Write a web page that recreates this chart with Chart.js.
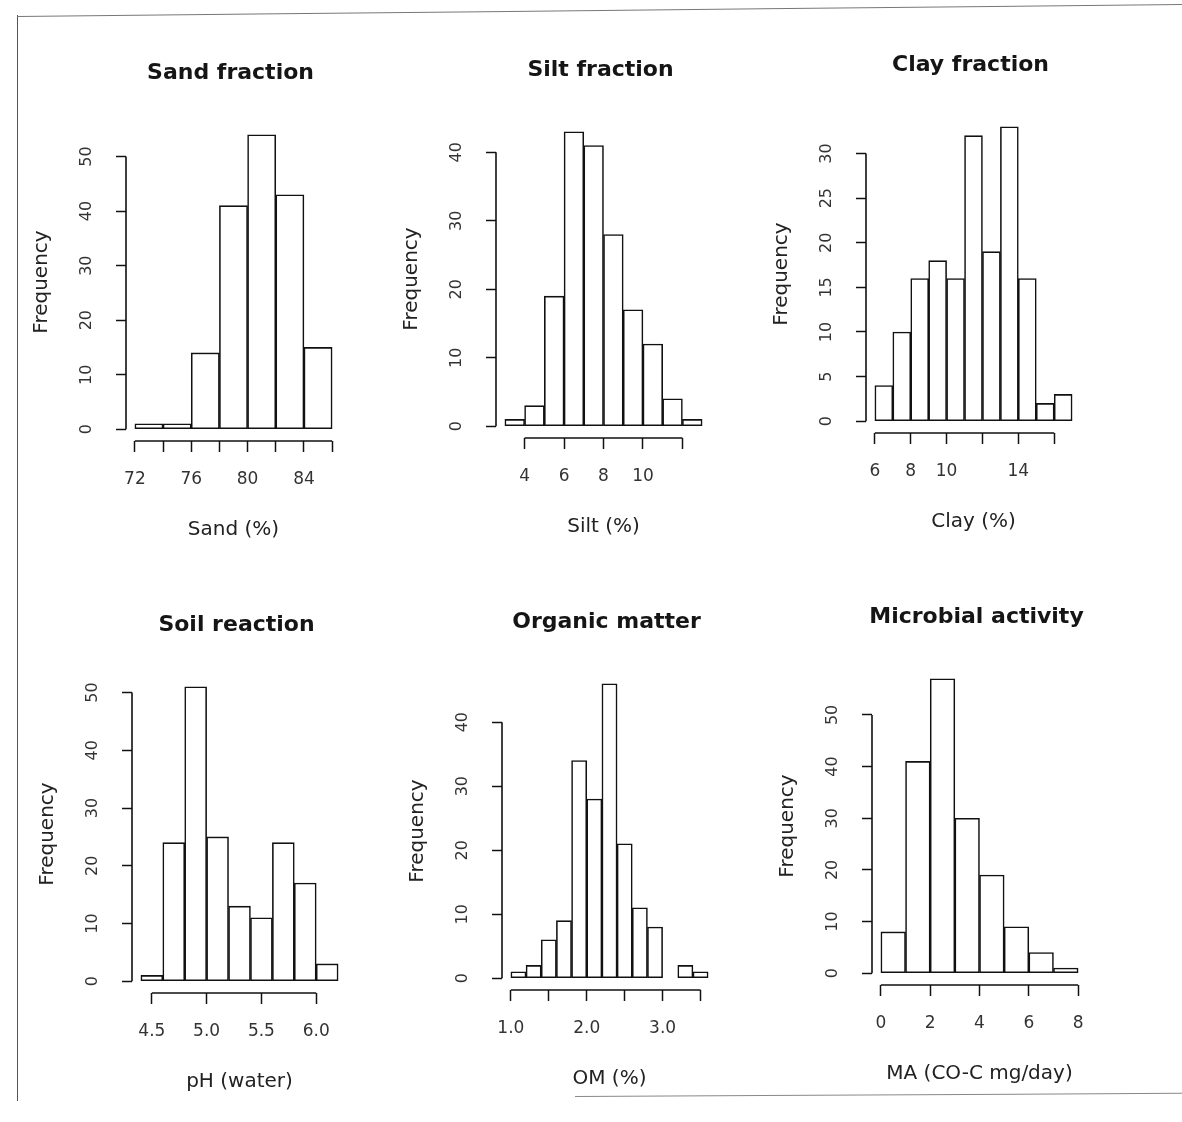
<!DOCTYPE html>
<html>
<head>
<meta charset="utf-8">
<title>Soil property histograms</title>
<script src="https://cdn.jsdelivr.net/npm/chart.js@4.4.1/dist/chart.umd.min.js"></script>
<style>
  html, body { margin: 0; padding: 0; background: #fff; overflow: hidden; }
  body { width: 1182px; height: 1122px; position: relative; }
  canvas { position: absolute; }
  .edge { position: absolute; background: #555; }
</style>
</head>
<body>
<div class="edge" style="left:17px; top:15px; width:1px; height:1086px;"></div>
<div class="edge" style="left:17px; top:16px; width:1166px; height:1px; background:#777; transform-origin:0 0; transform:rotate(-0.59deg);"></div>
<div class="edge" style="left:575px; top:1096px; width:607px; height:1px; background:#888; transform-origin:0 0; transform:rotate(-0.3deg);"></div>

<canvas id="sandChart" width="345" height="518" style="left:26px; top:33px;"></canvas>
<canvas id="siltChart" width="345" height="518" style="left:396px; top:30px;"></canvas>
<canvas id="clayChart" width="345" height="518" style="left:766px; top:25px;"></canvas>
<canvas id="phChart" width="345" height="518" style="left:32px; top:585px;"></canvas>
<canvas id="omChart" width="345" height="518" style="left:402px; top:582px;"></canvas>
<canvas id="maChart" width="345" height="518" style="left:772px; top:577px;"></canvas>

<script>
// bin edges and counts
const sandBreaks = [72, 74, 76, 78, 80, 82, 84, 86];
const sandCounts = [1, 1, 14, 41, 54, 43, 15];
const sandTicks = [72, 74, 76, 78, 80, 82, 84, 86];
const sandLabels = ["72", "", "76", "", "80", "", "84", ""];
const sandYTicks = [0, 10, 20, 30, 40, 50];

const siltBreaks = [3, 4, 5, 6, 7, 8, 9, 10, 11, 12, 13];
const siltCounts = [1, 3, 19, 43, 41, 28, 17, 12, 4, 1];
const siltTicks = [4, 6, 8, 10, 12];
const siltLabels = ["4", "6", "8", "10", ""];
const siltYTicks = [0, 10, 20, 30, 40];

const clayBreaks = [6, 7, 8, 9, 10, 11, 12, 13, 14, 15, 16, 17];
const clayCounts = [4, 10, 16, 18, 16, 32, 19, 33, 16, 2, 3];
const clayTicks = [6, 8, 10, 12, 14, 16];
const clayLabels = ["6", "8", "10", "", "14", ""];
const clayYTicks = [0, 5, 10, 15, 20, 25, 30];

const phBreaks = [4.4, 4.6, 4.8, 5.0, 5.2, 5.4, 5.6, 5.8, 6.0, 6.2];
const phCounts = [1, 24, 51, 25, 13, 11, 24, 17, 3];
const phTicks = [4.5, 5.0, 5.5, 6.0];
const phLabels = ["4.5", "5.0", "5.5", "6.0"];
const phYTicks = [0, 10, 20, 30, 40, 50];

const omBreaks = [1.0, 1.2, 1.4, 1.6, 1.8, 2.0, 2.2, 2.4, 2.6, 2.8, 3.0, 3.2, 3.4, 3.6];
const omCounts = [1, 2, 6, 9, 34, 28, 46, 21, 11, 8, 0, 2, 1];
const omTicks = [1.0, 1.5, 2.0, 2.5, 3.0, 3.5];
const omLabels = ["1.0", "", "2.0", "", "3.0", ""];
const omYTicks = [0, 10, 20, 30, 40];

const maBreaks = [0, 1, 2, 3, 4, 5, 6, 7, 8];
const maCounts = [8, 41, 57, 30, 19, 9, 4, 1];
const maTicks = [0, 2, 4, 6, 8];
const maLabels = ["0", "2", "4", "6", "8"];
const maYTicks = [0, 10, 20, 30, 40, 50];

Chart.defaults.font.family = '"DejaVu Sans", sans-serif';
Chart.defaults.color = '#333';

/*
 * Draws one R style histogram: axes only span the tick range,
 * y labels are turned, title sits over the plot region
 */
function makeHist(id, title, xTitle, breaks, counts, xTicks, xLabels, yTicks) {
  let points = [];
  for (let i = 0; i < counts.length; i++) {
    points.push({ x: (breaks[i] + breaks[i + 1]) / 2, y: counts[i] });
  }
  let lo = breaks[0], hi = breaks[breaks.length - 1];
  let xPad = (hi - lo) * 0.045;
  let yMax = Math.max.apply(null, counts);

  // axis lines, turned y labels and main title
  let rStyle = {
    id: 'rStyle',
    afterDraw: function (chart) {
      let ctx = chart.ctx, area = chart.chartArea;
      let x = chart.scales.x, y = chart.scales.y;
      ctx.save();
      ctx.strokeStyle = '#111';
      ctx.lineWidth = 1.6;
      ctx.beginPath();
      ctx.moveTo(area.left, y.getPixelForValue(yTicks[0]));
      ctx.lineTo(area.left, y.getPixelForValue(yTicks[yTicks.length - 1]));
      ctx.moveTo(x.getPixelForValue(xTicks[0]), area.bottom);
      ctx.lineTo(x.getPixelForValue(xTicks[xTicks.length - 1]), area.bottom);
      ctx.stroke();

      ctx.fillStyle = '#333';
      ctx.font = '16px "DejaVu Sans"';
      ctx.textAlign = 'center';
      ctx.textBaseline = 'middle';
      yTicks.forEach(function (v) {
        ctx.save();
        ctx.translate(area.left - 39, y.getPixelForValue(v));
        ctx.rotate(-Math.PI / 2);
        ctx.fillText(String(v), 0, 0);
        ctx.restore();
      });

      ctx.fillStyle = '#151515';
      ctx.font = 'bold 22px "DejaVu Sans"';
      ctx.fillText(title, (area.left + area.right) / 2 - 3, area.top - 50);
      ctx.restore();
    }
  };

  let ctx = document.getElementById(id).getContext('2d');
  return new Chart(ctx, {
    type: 'bar',
    data: {
      datasets: [{
        data: points,
        backgroundColor: '#fff',
        borderColor: '#111',
        borderWidth: 1.6,
        borderSkipped: false,
        barPercentage: 1,
        categoryPercentage: 1
      }]
    },
    options: {
      responsive: false,
      animation: false,
      layout: { padding: { top: 90, right: 30, left: 0, bottom: 0 } },
      plugins: { legend: { display: false }, tooltip: { enabled: false } },
      scales: {
        x: {
          type: 'linear',
          offset: false,
          min: lo - xPad,
          max: hi + xPad,
          afterBuildTicks: function (s) { s.ticks = xTicks.map(function (v) { return { value: v }; }); },
          afterFit: function (s) { s.height = 110; },
          border: { display: false },
          grid: { offset: false, drawOnChartArea: false, drawTicks: true, tickLength: 11, tickWidth: 1.5, tickColor: '#111' },
          ticks: {
            autoSkip: false, maxRotation: 0, padding: 17,
            font: { size: 17 }, color: '#333',
            callback: function (v, i) { return xLabels[i]; }
          },
          title: { display: true, text: xTitle, font: { size: 20 }, color: '#222', padding: { top: 0, bottom: 9 } }
        },
        y: {
          min: -0.04 * yMax,
          max: 1.04 * yMax,
          afterBuildTicks: function (s) { s.ticks = yTicks.map(function (v) { return { value: v }; }); },
          afterFit: function (s) { s.width = 100; },
          border: { display: false },
          grid: { drawOnChartArea: false, drawTicks: true, tickLength: 10, tickWidth: 1.5, tickColor: '#111' },
          ticks: { display: false },
          title: { display: true, text: 'Frequency', font: { size: 20 }, color: '#222', padding: { top: 4, bottom: 0 } }
        }
      }
    },
    plugins: [rStyle]
  });
}

makeHist('sandChart', 'Sand fraction', 'Sand (%)', sandBreaks, sandCounts, sandTicks, sandLabels, sandYTicks);
makeHist('siltChart', 'Silt fraction', 'Silt (%)', siltBreaks, siltCounts, siltTicks, siltLabels, siltYTicks);
makeHist('clayChart', 'Clay fraction', 'Clay (%)', clayBreaks, clayCounts, clayTicks, clayLabels, clayYTicks);
makeHist('phChart', 'Soil reaction', 'pH (water)', phBreaks, phCounts, phTicks, phLabels, phYTicks);
makeHist('omChart', 'Organic matter', 'OM (%)', omBreaks, omCounts, omTicks, omLabels, omYTicks);
makeHist('maChart', 'Microbial activity', 'MA (CO-C mg/day)', maBreaks, maCounts, maTicks, maLabels, maYTicks);
</script>
</body>
</html>
